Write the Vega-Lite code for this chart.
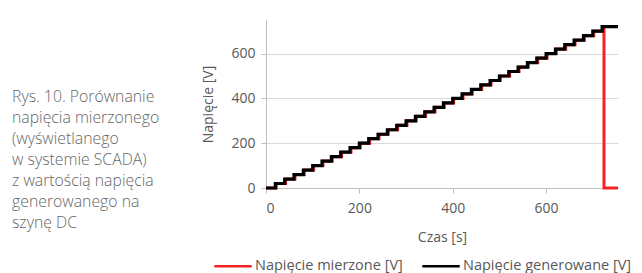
{
  "$schema": "https://vega.github.io/schema/vega-lite/v6.json",
  "width": 352,
  "height": 168,
  "autosize": {"type": "none"},
  "padding": {"left": 266, "top": 20, "right": 24, "bottom": 85},
  "background": "#ffffff",
  "title": {
    "text": ["Rys. 10. Porównanie", "napięcia mierzonego", "(wyświetlanego", "w systemie SCADA)", "z wartością napięcia", "generowanego na", "szynę DC"],
    "orient": "top",
    "anchor": "start",
    "frame": "group",
    "baseline": "top",
    "dx": -254,
    "dy": 216,
    "font": "Open Sans",
    "fontSize": 15.8,
    "fontWeight": 300,
    "lineHeight": 21,
    "color": "#666666"
  },
  "datasets": {
    "gen": [
      {"t":0,"v":0},{"t":20,"v":20},{"t":40,"v":40},{"t":60,"v":60},{"t":80,"v":80},{"t":100,"v":100},{"t":120,"v":120},{"t":140,"v":140},{"t":160,"v":160},{"t":180,"v":180},{"t":200,"v":200},{"t":220,"v":220},{"t":240,"v":240},{"t":260,"v":260},{"t":280,"v":280},{"t":300,"v":300},{"t":320,"v":320},{"t":340,"v":340},{"t":360,"v":360},{"t":380,"v":380},{"t":400,"v":400},{"t":420,"v":420},{"t":440,"v":440},{"t":460,"v":460},{"t":480,"v":480},{"t":500,"v":500},{"t":520,"v":520},{"t":540,"v":540},{"t":560,"v":560},{"t":580,"v":580},{"t":600,"v":600},{"t":620,"v":620},{"t":640,"v":640},{"t":660,"v":660},{"t":680,"v":680},{"t":700,"v":700},{"t":720,"v":720},{"t":754,"v":720}
    ],
    "mer": [
      {"t":0,"v":0},{"t":22,"v":20},{"t":42,"v":40},{"t":62,"v":60},{"t":82,"v":80},{"t":102,"v":100},{"t":122,"v":120},{"t":142,"v":140},{"t":162,"v":160},{"t":182,"v":180},{"t":202,"v":200},{"t":222,"v":220},{"t":242,"v":240},{"t":262,"v":260},{"t":282,"v":280},{"t":302,"v":300},{"t":322,"v":320},{"t":342,"v":340},{"t":362,"v":360},{"t":382,"v":380},{"t":402,"v":400},{"t":422,"v":420},{"t":442,"v":440},{"t":462,"v":460},{"t":482,"v":480},{"t":502,"v":500},{"t":522,"v":520},{"t":542,"v":540},{"t":562,"v":560},{"t":582,"v":580},{"t":602,"v":600},{"t":622,"v":620},{"t":642,"v":640},{"t":662,"v":660},{"t":682,"v":680},{"t":702,"v":700},{"t":722,"v":720},{"t":724,"v":0},{"t":754,"v":0}
    ]
  },
  "encoding": {
    "x": {
      "field": "t", "type": "quantitative",
      "scale": {"domain": [0, 754], "nice": false},
      "axis": {"values": [0, 200, 400, 600], "title": "Czas [s]", "grid": false}
    },
    "y": {
      "field": "v", "type": "quantitative",
      "scale": {"domain": [0, 750], "nice": false},
      "axis": {"values": [0, 200, 400, 600], "title": "Napięcie [V]", "grid": true}
    }
  },
  "layer": [
    {
      "data": {"name": "mer"},
      "transform": [{"calculate": "'Napięcie mierzone [V]'", "as": "s"}],
      "mark": {"type": "line", "interpolate": "step-after", "strokeWidth": 3},
      "encoding": {
        "color": {"field": "s", "type": "nominal",
          "scale": {"domain": ["Napięcie mierzone [V]", "Napięcie generowane [V]"], "range": ["#f42424", "#000000"]},
          "legend": {"title": null, "orient": "none", "direction": "horizontal", "legendX": -53, "legendY": 226, "symbolType": "stroke", "symbolSize": 1400, "symbolStrokeWidth": 2.5, "columnPadding": 14, "labelOffset": 2, "labelLimit": 300}
        }
      }
    },
    {
      "data": {"name": "gen"},
      "transform": [{"calculate": "'Napięcie generowane [V]'", "as": "s"}],
      "mark": {"type": "line", "interpolate": "step-after", "strokeWidth": 3.2},
      "encoding": {
        "color": {"field": "s", "type": "nominal"}
      }
    }
  ],
  "config": {
    "view": {"stroke": null},
    "axis": {
      "labelFont": "Open Sans", "labelFontSize": 14, "labelColor": "#595959",
      "titleFont": "Open Sans", "titleFontSize": 14, "titleColor": "#595959", "titleFontWeight": "normal",
      "domainColor": "#bfbfbf", "tickColor": "#bfbfbf", "gridColor": "#d9d9d9", "tickSize": 5
    },
    "axisX": {"labelPadding": 8, "titlePadding": 15},
    "axisY": {"labelPadding": 6, "titlePadding": 15},
    "legend": {"labelFont": "Open Sans", "labelFontSize": 14.5, "labelColor": "#595959"}
  }
}
